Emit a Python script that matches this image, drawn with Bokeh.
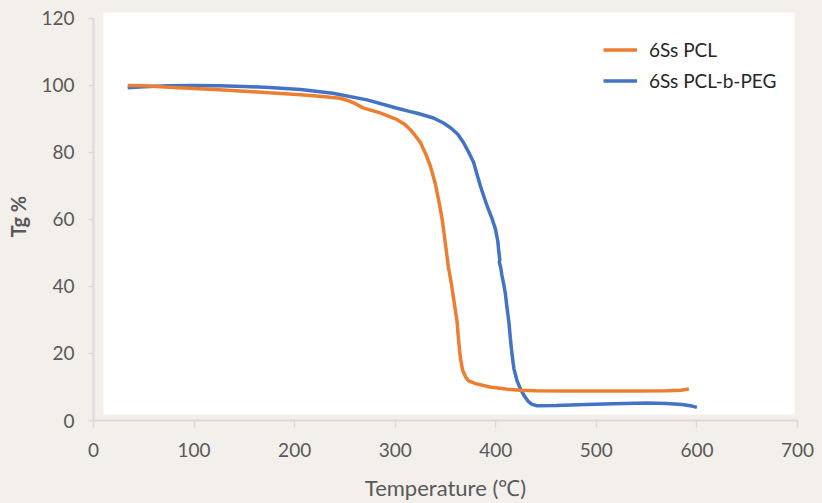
from bokeh.plotting import figure
from bokeh.models import (Range1d, BoxAnnotation, Legend, LegendItem,
                          FixedTicker)
from bokeh.embed import file_html
from bokeh.resources import INLINE

# ---- data ----
pcl_temp = [34, 50, 75, 100, 125, 150, 175, 206, 230, 245, 252, 258, 268, 285, 302,
            310, 315, 320, 325, 330, 335, 340, 344, 347, 350, 353, 356, 359, 361.5,
            363, 364.8, 367, 370, 373, 380, 394, 410, 424, 440, 467, 500, 540, 570,
            584, 592]
pcl_tg = [100.0, 99.9, 99.5, 99.1, 98.7, 98.3, 97.8, 97.2, 96.6, 96.2, 95.6, 94.9,
          93.3, 91.8, 89.8, 88.3, 86.8, 85.0, 83.0, 79.8, 75.9, 70.5, 64.5, 59.5,
          52.5, 45.5, 40.5, 34.5, 29.5, 24.0, 18.7, 15.0, 13.0, 11.8, 11.0, 10.0,
          9.4, 9.0, 8.9, 8.8, 8.8, 8.8, 8.9, 9.0, 9.4]

peg_temp = [34, 50, 75, 100, 125, 150, 175, 206, 238, 272, 302, 315, 322, 338, 348,
            355, 362, 368, 374, 378, 381, 384.7, 388, 391.3, 396, 399.6, 402, 403,
            404, 403.5, 405, 406, 408, 409.5, 411, 413, 414.5, 416.2, 418, 421,
            424.4, 428, 432, 436, 441, 460, 490, 517, 550, 570, 585, 595, 600]
peg_tg = [99.3, 99.6, 99.9, 100.0, 99.9, 99.7, 99.4, 98.8, 97.7, 95.7, 93.2, 92.2,
          91.7, 90.3, 88.8, 87.4, 85.5, 82.9, 79.5, 77.0, 73.8, 70.0, 67.0, 64.1,
          60.5, 57.2, 53.5, 50.5, 48.0, 47.2, 45.5, 43.5, 40.5, 38.0, 34.0, 29.5,
          24.5, 19.6, 15.5, 12.0, 9.5, 7.5, 5.8, 4.8, 4.4, 4.5, 4.8, 5.0, 5.2, 5.1,
          4.8, 4.3, 3.9]

series_names = ["6Ss PCL", "6Ss PCL-b-PEG"]
x_ticks = [0, 100, 200, 300, 400, 500, 600, 700]
y_ticks = [0, 20, 40, 60, 80, 100, 120]

BG = "#f3f0ec"
AXIS = "#d9d9d9"
TXT = "#595959"
FONT = "Lato"

p = figure(width=822, height=503, output_backend="svg", toolbar_location=None,
           x_range=Range1d(0, 700), y_range=Range1d(0, 121.78),
           min_border_left=93, min_border_right=25, min_border_top=12,
           min_border_bottom=80)
p.background_fill_color = BG
p.border_fill_color = BG
p.outline_line_color = None
p.xgrid.visible = False
p.ygrid.visible = False

# white plot area
p.add_layout(BoxAnnotation(left=9.9, right=697, bottom=1.8, top=121.78,
                           fill_color="white", fill_alpha=1.0, line_color=None,
                           level="underlay"))

r_peg = p.line(peg_temp, peg_tg, line_color="#4472C4", line_width=3.5)
r_pcl = p.line(pcl_temp, pcl_tg, line_color="#ED7D31", line_width=3.5)

# axes
for ax in (p.xaxis[0], p.yaxis[0]):
    ax.axis_line_color = AXIS
    ax.axis_line_width = 2
    ax.major_tick_line_color = AXIS
    ax.major_tick_line_width = 1.5
    ax.minor_tick_line_color = None
    ax.major_tick_in = 0
    ax.major_label_text_color = TXT
    ax.major_label_text_font = FONT
    ax.major_label_text_font_size = "19px"
    ax.axis_label_text_color = TXT
    ax.axis_label_text_font = FONT

p.xaxis.ticker = FixedTicker(ticks=x_ticks)
p.yaxis.ticker = FixedTicker(ticks=y_ticks)
p.yaxis.bounds = (0, 120)
p.xaxis.major_tick_out = 7
p.yaxis.major_tick_out = 5
p.xaxis.major_label_standoff = 15
p.yaxis.major_label_standoff = 14

p.xaxis.axis_label = "Temperature (\u2103)"
p.xaxis.axis_label_text_font_size = "22px"
p.xaxis.axis_label_text_font_style = "normal"
p.xaxis.axis_label_standoff = 14

p.yaxis.axis_label = "Tg %"
p.yaxis.axis_label_text_font_size = "20px"
p.yaxis.axis_label_text_font_style = "bold"
p.yaxis.axis_label_standoff = 8

legend = Legend(items=[LegendItem(label=series_names[0], renderers=[r_pcl]),
                       LegendItem(label=series_names[1], renderers=[r_peg])],
                location=(510, 324), orientation="vertical",
                background_fill_alpha=0, border_line_color=None,
                padding=0, margin=0, spacing=0,
                glyph_width=34, glyph_height=31, label_height=31,
                label_standoff=12, label_text_font=FONT,
                label_text_font_size="19px", label_text_color="#262626")
p.add_layout(legend)

html = file_html(p, INLINE)
html = html.replace("</head>", "<style>html,body{background:%s;}</style></head>" % BG, 1)
open("out.html", "w").write(html)
